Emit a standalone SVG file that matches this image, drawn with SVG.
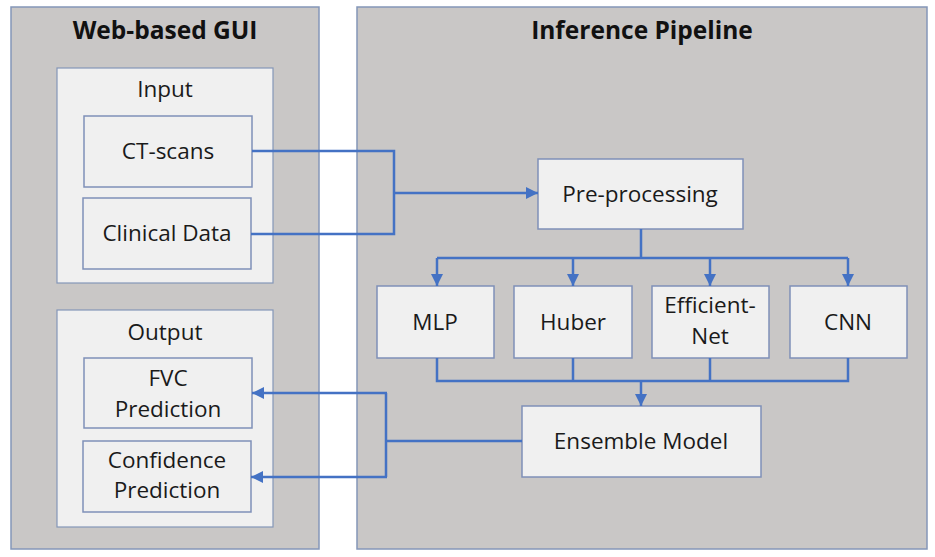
<svg xmlns="http://www.w3.org/2000/svg" width="935" height="557" viewBox="0 0 935 557">
<style>
.panel{fill:#c9c7c6;stroke:#8496b8;stroke-width:1.5}
.group{fill:#f0f0f0;stroke:#8496b8;stroke-width:1.2}
.box{fill:#f0f0f0;stroke:#7f90b8;stroke-width:1.5}
.t{font-family:"Open Sans","Noto Sans",sans-serif;font-size:22.5px;fill:#1a1a1a;text-anchor:middle}
.title{font-family:"Open Sans","Noto Sans",sans-serif;font-size:24.5px;font-weight:bold;fill:#111;text-anchor:middle}
.c{fill:none;stroke:#4472c4;stroke-width:2.5}
</style>
<defs>
<marker id="ah" markerUnits="userSpaceOnUse" markerWidth="12" markerHeight="12" viewBox="0 0 10 10" refX="10" refY="5" orient="auto">
<path d="M0,0 L10,5 L0,10 z" fill="#4472c4"/>
</marker>
</defs>
<rect width="935" height="557" fill="#ffffff"/>
<g id="gui-panel">
<rect class="panel" x="11" y="7" width="308" height="542"/>
<text class="title" x="165" y="39">Web-based GUI</text>
</g>
<g id="pipeline-panel">
<rect class="panel" x="357" y="7" width="570" height="542"/>
<text class="title" x="642" y="39">Inference Pipeline</text>
</g>
<g id="input-group">
<rect class="group" x="57" y="68" width="216" height="215"/>
<text class="t" x="165" y="97">Input</text>
</g>
<g id="ct-scans">
<rect class="box" x="84" y="116" width="168" height="71"/>
<text class="t" x="168" y="159">CT-scans</text>
</g>
<g id="clinical-data">
<rect class="box" x="83" y="198" width="168" height="71"/>
<text class="t" x="167" y="241">Clinical Data</text>
</g>
<g id="output-group">
<rect class="group" x="57" y="310" width="216" height="217"/>
<text class="t" x="165" y="340">Output</text>
</g>
<g id="fvc-prediction">
<rect class="box" x="84" y="358" width="168" height="70"/>
<text class="t" x="168" y="386">FVC</text>
<text class="t" x="168" y="417">Prediction</text>
</g>
<g id="confidence-prediction">
<rect class="box" x="83" y="441" width="168" height="71"/>
<text class="t" x="167" y="468">Confidence</text>
<text class="t" x="167" y="498">Prediction</text>
</g>
<g id="pre-processing">
<rect class="box" x="538" y="159" width="205" height="70"/>
<text class="t" x="640" y="202">Pre-processing</text>
</g>
<g id="mlp">
<rect class="box" x="377" y="286" width="117" height="72"/>
<text class="t" x="435" y="330">MLP</text>
</g>
<g id="huber">
<rect class="box" x="514" y="286" width="118" height="72"/>
<text class="t" x="573" y="330">Huber</text>
</g>
<g id="efficient-net">
<rect class="box" x="652" y="286" width="117" height="72"/>
<text class="t" x="710" y="313">Efficient-</text>
<text class="t" x="710" y="344">Net</text>
</g>
<g id="cnn">
<rect class="box" x="790" y="286" width="117" height="72"/>
<text class="t" x="848" y="330">CNN</text>
</g>
<g id="ensemble-model">
<rect class="box" x="522" y="406" width="239" height="71"/>
<text class="t" x="641" y="449">Ensemble Model</text>
</g>
<g id="connectors">
<path class="c" d="M252,151 H394 V234 H251"/>
<path class="c" d="M394,193 H538" marker-end="url(#ah)"/>
<path class="c" d="M641,229 V258 M437,258 H848"/>
<path class="c" d="M437,258 V286" marker-end="url(#ah)"/>
<path class="c" d="M573,258 V286" marker-end="url(#ah)"/>
<path class="c" d="M710,258 V286" marker-end="url(#ah)"/>
<path class="c" d="M848,258 V286" marker-end="url(#ah)"/>
<path class="c" d="M437,358 V381 H848 V358 M573,358 V381 M710,358 V381"/>
<path class="c" d="M641,381 V406" marker-end="url(#ah)"/>
<path class="c" d="M522,441 H386 M386,393 V477"/>
<path class="c" d="M387,393 H252" marker-end="url(#ah)"/>
<path class="c" d="M387,477 H251" marker-end="url(#ah)"/>
</g>
</svg>
